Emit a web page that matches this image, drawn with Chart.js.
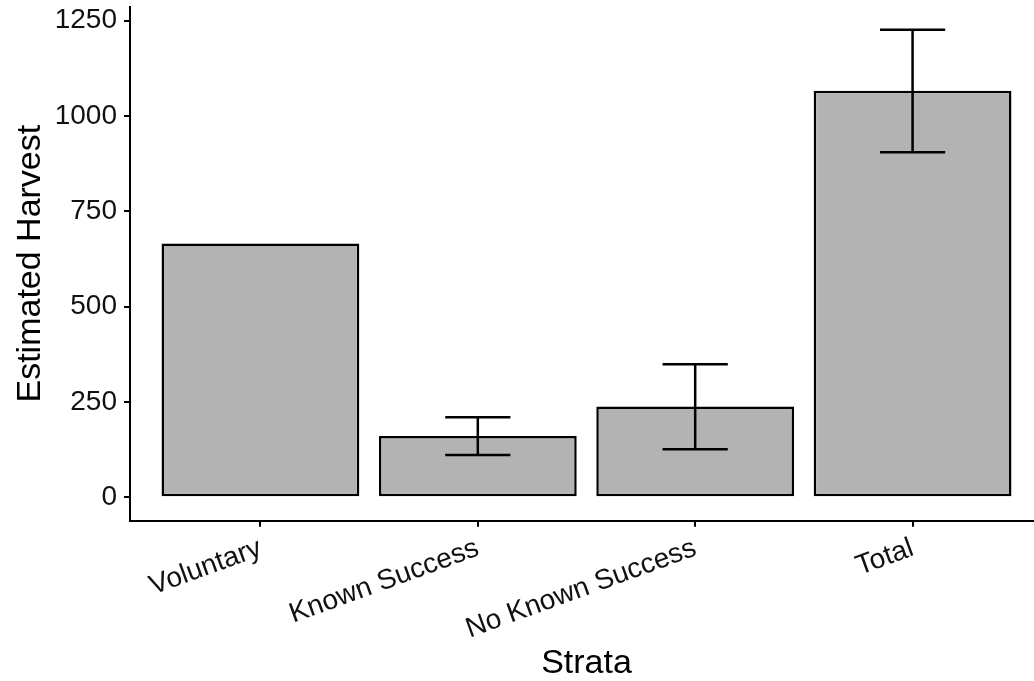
<!DOCTYPE html>
<html>
<head>
<meta charset="utf-8">
<script src="https://cdn.jsdelivr.net/npm/chart.js@4/dist/chart.umd.min.js"></script>
<style>
  html, body { margin: 0; padding: 0; background: #ffffff; overflow: hidden; }
  #wrap { width: 1034px; height: 681px; overflow: hidden; }
  #harvest { display: block; }
</style>
</head>
<body>
<div id="wrap"><canvas id="harvest" width="1043" height="681"></canvas></div>
<script>
// Harvest estimates by stratum, with interval bounds (no interval for Voluntary)
const strata = ['Voluntary', 'Known Success', 'No Known Success', 'Total'];
const harvest = [666, 161, 238, 1066];
const lowerBound = [null, 111, 126, 905];
const upperBound = [null, 210, 349, 1226];
const yTickValues = [0, 250, 500, 750, 1000, 1250];

const FONT = "'Liberation Sans', Arial, Helvetica, sans-serif";

// vertical error bars with caps, positioned through the chart scales
const errorBars = {
  id: 'errorBars',
  afterDatasetsDraw(chart) {
    const { ctx, scales: { x, y } } = chart;
    const unit = x.getPixelForValue(2) - x.getPixelForValue(1);
    const half = unit * 0.3 / 2;
    ctx.save();
    ctx.strokeStyle = '#000000';
    ctx.lineWidth = 2.5;
    ctx.lineCap = 'butt';
    strata.forEach((_, i) => {
      if (lowerBound[i] == null || upperBound[i] == null) return;
      const px = x.getPixelForValue(i + 1);
      const lo = y.getPixelForValue(lowerBound[i]);
      const hi = y.getPixelForValue(upperBound[i]);
      ctx.beginPath();
      ctx.moveTo(px, lo); ctx.lineTo(px, hi);
      ctx.moveTo(px - half, lo); ctx.lineTo(px + half, lo);
      ctx.moveTo(px - half, hi); ctx.lineTo(px + half, hi);
      ctx.stroke();
    });
    ctx.restore();
  }
};

const zeroPadding = (scale) => {
  scale.paddingLeft = 0; scale.paddingRight = 0;
  scale.paddingTop = 0; scale.paddingBottom = 0;
};

new Chart(document.getElementById('harvest'), {
  type: 'bar',
  data: {
    datasets: [{
      data: strata.map((s, i) => ({ x: i + 1, y: harvest[i] })),
      backgroundColor: '#b3b3b3',
      borderColor: '#000000',
      borderWidth: 2.5,
      borderSkipped: false,
      barPercentage: 0.91,
      categoryPercentage: 1
    }]
  },
  options: {
    responsive: false,
    animation: false,
    events: [],
    layout: { padding: { left: 0, right: 0, top: 6.6, bottom: 0 } },
    plugins: { legend: { display: false }, tooltip: { enabled: false } },
    scales: {
      x: {
        type: 'linear',
        min: 0.4,
        max: 4.6,
        offset: false,
        afterBuildTicks: (scale) => { scale.ticks = strata.map((s, i) => ({ value: i + 1 })); },
        afterFit: (scale) => { scale.height = 681 - 520.7; zeroPadding(scale); },
        ticks: {
          autoSkip: false,
          minRotation: 20,
          maxRotation: 20,
          padding: 5,
          color: '#111111',
          font: { family: FONT, size: 28 },
          callback: (v) => strata[v - 1]
        },
        grid: { offset: false, drawOnChartArea: false, color: '#000000', lineWidth: 2, tickLength: 6 },
        border: { display: true, color: '#000000', width: 2 },
        title: {
          display: true,
          text: 'Strata',
          color: '#000000',
          font: { family: FONT, size: 34, lineHeight: 1 },
          padding: { top: 0, bottom: 0 }
        }
      },
      y: {
        type: 'linear',
        min: -61.3,
        max: 1287,
        afterBuildTicks: (scale) => { scale.ticks = yTickValues.map(v => ({ value: v })); },
        afterFit: (scale) => { scale.width = 130; zeroPadding(scale); },
        ticks: {
          padding: 7,
          color: '#111111',
          font: { family: FONT, size: 28 },
          callback: (v) => String(v)
        },
        grid: { drawOnChartArea: false, color: '#000000', lineWidth: 2, tickLength: 6 },
        border: { display: true, color: '#000000', width: 2 },
        title: {
          display: true,
          text: 'Estimated Harvest',
          color: '#000000',
          font: { family: FONT, size: 34, lineHeight: 1 },
          padding: { top: 14, bottom: 0 }
        }
      }
    }
  },
  plugins: [errorBars]
});
</script>
</body>
</html>
